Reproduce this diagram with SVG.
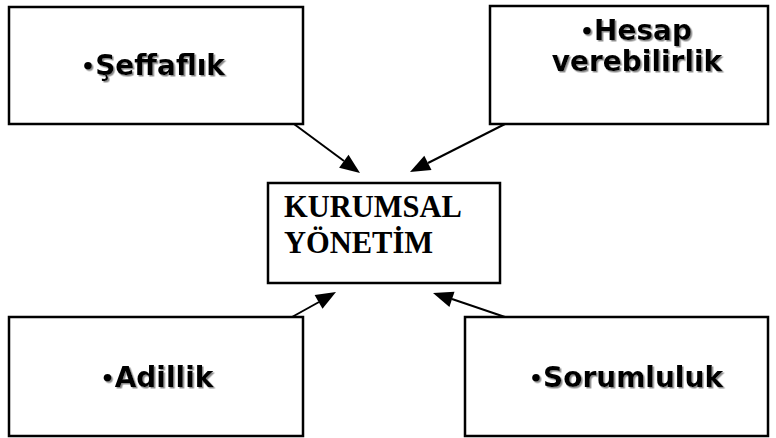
<svg xmlns="http://www.w3.org/2000/svg" width="776" height="438" viewBox="0 0 776 438">
  <defs>
    <filter id="shadow" x="-10%" y="-20%" width="120%" height="150%">
      <feDropShadow dx="1.5" dy="1.5" stdDeviation="0.6" flood-color="#8a8a8a" flood-opacity="1"/>
    </filter>
  </defs>
  <style>
    .box { fill: #ffffff; stroke: #000000; stroke-width: 2.5; }
    .lbl { font-family: "DejaVu Sans", Verdana, sans-serif; font-weight: bold; font-size: 28px; fill: #000000; text-anchor: middle; filter: url(#shadow); }
    .dot { font-size: 22px; }
    .core { font-family: "Liberation Serif", "Times New Roman", serif; font-weight: bold; font-size: 30.5px; fill: #000000; }
    .edge { stroke: #000000; stroke-width: 2; fill: none; }
    .head { fill: #000000; stroke: none; }
  </style>

  <rect width="776" height="438" fill="#ffffff"/>

  <g id="seffaflik">
    <rect class="box" x="9" y="7" width="294" height="117"/>
    <text class="lbl" x="153" y="75"><tspan class="dot" dy="-1">•</tspan><tspan dy="1">Şeffaflık</tspan></text>
  </g>

  <g id="hesap-verebilirlik">
    <rect class="box" x="490" y="6" width="278" height="118"/>
    <text class="lbl" x="636" y="40"><tspan class="dot" dy="-1">•</tspan><tspan dy="1">Hesap</tspan></text>
    <text class="lbl" x="637" y="71">verebilirlik</text>
  </g>

  <g id="kurumsal-yonetim">
    <rect class="box" x="268" y="183" width="232" height="100"/>
    <text class="core" x="284" y="217">KURUMSAL</text>
    <text class="core" x="284" y="253">YÖNETİM</text>
  </g>

  <g id="adillik">
    <rect class="box" x="9" y="317" width="294" height="119"/>
    <text class="lbl" x="157" y="387"><tspan class="dot" dy="-1">•</tspan><tspan dy="1">Adillik</tspan></text>
  </g>

  <g id="sorumluluk">
    <rect class="box" x="465" y="317" width="303" height="119"/>
    <text class="lbl" x="626" y="387"><tspan class="dot" dy="-1">•</tspan><tspan dy="1">Sorumluluk</tspan></text>
  </g>

  <g id="connectors">
    <path class="edge" d="M294,124 L344,161"/>
    <polygon class="head" points="360,173 339.1,167.8 348.5,154.8"/>
    <path class="edge" d="M505,124 L428,163"/>
    <polygon class="head" points="410,172 424.3,155.8 431.5,170.1"/>
    <path class="edge" d="M292,317 L319,302"/>
    <polygon class="head" points="336,292 322.5,308.8 314.6,294.9"/>
    <path class="edge" d="M505,317 L452,299"/>
    <polygon class="head" points="433,293 454.5,291.7 449.4,306.9"/>
  </g>
</svg>
